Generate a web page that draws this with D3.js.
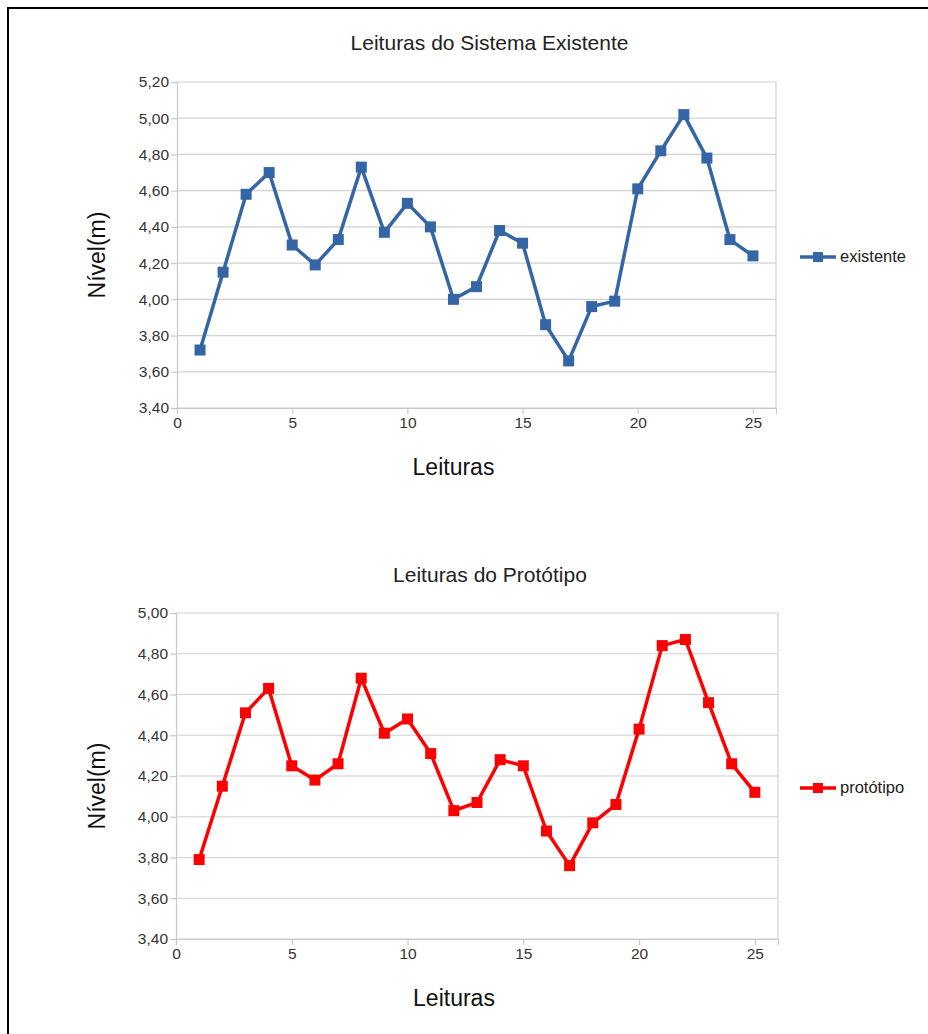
<!DOCTYPE html>
<html>
<head>
<meta charset="utf-8">
<script src="https://cdn.jsdelivr.net/npm/d3@7"></script>
<style>
  html, body { margin: 0; padding: 0; background: #fff; }
  svg { display: block; font-family: "Liberation Sans", Arial, sans-serif; }
</style>
</head>
<body>
<svg id="chart" width="928" height="1034"></svg>
<script>
// Reading numbers (x) shared by both series
const leituras = d3.range(1, 26);

// Water level readings, existing system (m)
const existente = [3.72, 4.15, 4.58, 4.70, 4.30, 4.19, 4.33, 4.73, 4.37, 4.53,
                   4.40, 4.00, 4.07, 4.38, 4.31, 3.86, 3.66, 3.96, 3.99, 4.61,
                   4.82, 5.02, 4.78, 4.33, 4.24];

// Water level readings, prototype (m)
const prototipo = [3.79, 4.15, 4.51, 4.63, 4.25, 4.18, 4.26, 4.68, 4.41, 4.48,
                   4.31, 4.03, 4.07, 4.28, 4.25, 3.93, 3.76, 3.97, 4.06, 4.43,
                   4.84, 4.87, 4.56, 4.26, 4.12];

const xTicks = [0, 5, 10, 15, 20, 25];
const yTicksTop = [3.4, 3.6, 3.8, 4.0, 4.2, 4.4, 4.6, 4.8, 5.0, 5.2];
const yTicksBottom = [3.4, 3.6, 3.8, 4.0, 4.2, 4.4, 4.6, 4.8, 5.0];

const svg = d3.select("#chart");

// outer frame
svg.append("rect")
  .attr("x", 8).attr("y", 8)
  .attr("width", 940).attr("height", 1060)
  .attr("fill", "none").attr("stroke", "#000").attr("stroke-width", 2);

const fmt = d => d3.format(".2f")(d).replace(".", ",");

function drawChart(cfg) {
  const g = svg.append("g");
  const x = d3.scaleLinear().domain([0, 26]).range([cfg.left, cfg.right]);
  const y = d3.scaleLinear().domain([cfg.yMin, cfg.yMax]).range([cfg.bottom, cfg.top]);

  // horizontal gridlines
  g.append("g")
    .selectAll("line")
    .data(cfg.yTicks)
    .join("line")
    .attr("x1", cfg.left).attr("x2", cfg.right)
    .attr("y1", d => y(d)).attr("y2", d => y(d))
    .attr("stroke", "#d0d0d0").attr("stroke-width", 1.2);

  // plot frame (right edge)
  g.append("line")
    .attr("x1", cfg.right).attr("x2", cfg.right)
    .attr("y1", cfg.top).attr("y2", cfg.bottom)
    .attr("stroke", "#d0d0d0").attr("stroke-width", 1.2);

  // y axis
  const yAxis = g.append("g")
    .attr("transform", `translate(${cfg.left},0)`)
    .call(d3.axisLeft(y).tickValues(cfg.yTicks).tickFormat(fmt).tickSize(6).tickPadding(2));
  yAxis.select(".domain").attr("stroke", "#c8c8c8").attr("stroke-width", 1.2);
  yAxis.selectAll(".tick line").attr("stroke", "#c8c8c8").attr("stroke-width", 1.2);
  yAxis.selectAll(".tick text").attr("fill", "#333").style("font-size", "15.5px");

  // x axis
  const xAxis = g.append("g")
    .attr("transform", `translate(0,${cfg.bottom})`)
    .call(d3.axisBottom(x).tickValues(xTicks).tickFormat(d3.format("d")).tickSize(6).tickPadding(3));
  xAxis.select(".domain").attr("stroke", "#c8c8c8").attr("stroke-width", 1.2);
  xAxis.selectAll(".tick line").attr("stroke", "#c8c8c8").attr("stroke-width", 1.2);
  xAxis.selectAll(".tick text").attr("fill", "#333").style("font-size", "15.5px");

  // title
  g.append("text")
    .attr("x", (cfg.left + cfg.right) / 2 + 13).attr("y", cfg.titleY)
    .attr("text-anchor", "middle").attr("fill", "#222")
    .style("font-size", "21px")
    .text(cfg.title);

  // axis titles
  g.append("text")
    .attr("x", (cfg.left + cfg.right) / 2 - 23).attr("y", cfg.bottom + 67)
    .attr("text-anchor", "middle").attr("fill", "#111")
    .style("font-size", "23px")
    .text("Leituras");

  g.append("text")
    .attr("transform", `translate(105,${(cfg.top + cfg.bottom) / 2 + 10}) rotate(-90)`)
    .attr("text-anchor", "middle").attr("fill", "#111")
    .style("font-size", "23px")
    .text("Nível(m)");

  // series line
  const pts = leituras.map((k, i) => [k, cfg.values[i]]);
  g.append("path")
    .datum(pts)
    .attr("fill", "none")
    .attr("stroke", cfg.color).attr("stroke-width", 3.5)
    .attr("stroke-linejoin", "round")
    .attr("d", d3.line().x(d => x(d[0])).y(d => y(d[1])));

  // square markers
  const m = 11;
  g.append("g")
    .selectAll("rect")
    .data(pts)
    .join("rect")
    .attr("x", d => x(d[0]) - m / 2).attr("y", d => y(d[1]) - m / 2)
    .attr("width", m).attr("height", m)
    .attr("fill", cfg.color);

  // legend
  const ly = cfg.legendY;
  g.append("line")
    .attr("x1", 800).attr("x2", 836).attr("y1", ly).attr("y2", ly)
    .attr("stroke", cfg.color).attr("stroke-width", 3.5);
  g.append("rect")
    .attr("x", 813).attr("y", ly - 5).attr("width", 10).attr("height", 10)
    .attr("fill", cfg.color);
  g.append("text")
    .attr("x", 840).attr("y", ly + 5)
    .attr("fill", "#222").style("font-size", "16.5px")
    .text(cfg.legend);
}

drawChart({
  values: existente, color: "#3465a4",
  yMin: 3.4, yMax: 5.2, yTicks: yTicksTop,
  left: 177, right: 776, top: 82, bottom: 408,
  title: "Leituras do Sistema Existente", titleY: 50,
  legend: "existente", legendY: 257
});

drawChart({
  values: prototipo, color: "#ff0000",
  yMin: 3.4, yMax: 5.0, yTicks: yTicksBottom,
  left: 176, right: 778, top: 613, bottom: 939,
  title: "Leituras do Protótipo", titleY: 582,
  legend: "protótipo", legendY: 788
});
</script>
</body>
</html>
